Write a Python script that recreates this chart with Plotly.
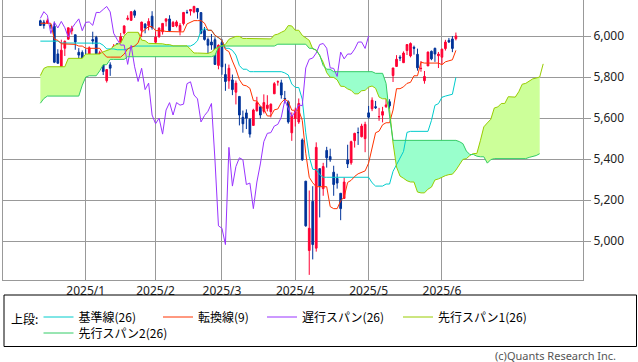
import plotly.graph_objects as go

# ---- trading days (S&P 500 daily, Dec 2024 - Jun 2025) ----
dec_days = [12, 13, 16, 17, 18, 19, 20, 23, 24, 26, 27, 30, 31]
jan_days = [2, 3, 6, 7, 8, 10, 13, 14, 15, 16, 17, 21, 22, 23, 24, 27, 28, 29, 30, 31]
feb_days = [3, 4, 5, 6, 7, 10, 11, 12, 13, 14, 18, 19, 20, 21, 24, 25, 26, 27, 28]
mar_days = [3, 4, 5, 6, 7, 10, 11, 12, 13, 14, 17, 18, 19, 20, 21, 24, 25, 26, 27, 28, 31]
apr_days = [1, 2, 3, 4, 7, 8, 9, 10, 11, 14, 15, 16, 17, 21, 22, 23, 24, 25, 28, 29, 30]
may_days = [1, 2, 5, 6, 7, 8, 9, 12, 13, 14, 15, 16, 19, 20, 21, 22, 23, 27, 28, 29, 30]
jun_days = [2, 3, 4, 5, 6]
months = [(2024, 12, dec_days), (2025, 1, jan_days), (2025, 2, feb_days), (2025, 3, mar_days),
          (2025, 4, apr_days), (2025, 5, may_days), (2025, 6, jun_days)]
dates = [f"{y}/{m}/{d}" for y, m, days in months for d in days]

O = [6074.29,6068.17,6063.79,6052.55,6047.65,5912.71,5842.00,5940.25,5984.63,6024.97,6006.17,5920.67,5919.74,
5903.26,5891.07,5982.81,5993.26,5910.66,5890.66,5782.32,5859.26,5905.21,5961.71,5969.23,6014.12,6081.39,6076.32,6121.43,5969.04,6026.97,6057.70,6050.75,6096.79,
5969.65,5998.14,6020.45,6072.22,6083.13,6046.40,6049.32,6025.08,6060.59,6115.52,6121.60,6117.76,6134.50,6114.10,6026.69,5982.73,5970.87,5981.88,5856.74,
5968.33,5811.98,5781.38,5785.87,5726.01,5705.37,5603.65,5624.84,5594.45,5563.85,5635.60,5654.53,5632.37,5646.92,5630.73,5718.08,5775.94,5771.66,5695.64,5679.40,5527.91,
5597.53,5580.76,5492.74,5292.14,4953.79,5193.57,4965.28,5353.15,5255.56,5441.96,5411.99,5335.75,5305.45,5232.94,5207.67,5395.92,5381.38,5489.73,5529.22,5508.87,5499.44,
5625.14,5645.06,5655.32,5605.88,5614.09,5655.31,5679.39,5807.46,5851.49,5896.68,5869.78,5929.09,5902.88,5944.66,5910.66,5841.26,5781.89,5854.07,5925.54,5939.92,5903.67,
5896.68,5938.56,5978.94,5985.67,5987.06]
H = [6079.68,6078.58,6085.19,6057.68,6070.67,5935.52,5982.06,5978.25,6040.10,6049.75,6006.17,5940.79,5929.74,
5935.09,5949.34,6021.04,6000.68,5927.89,5890.66,5838.80,5871.92,5960.61,5964.69,6014.96,6051.51,6100.81,6118.73,6128.18,6017.17,6069.90,6062.83,6086.64,6120.91,
6022.13,6042.48,6062.86,6084.03,6101.28,6073.38,6076.28,6063.09,6116.91,6127.47,6129.63,6147.43,6134.50,6114.82,6043.65,5992.65,6009.82,5993.69,5959.40,
5986.09,5865.08,5860.59,5812.08,5783.01,5705.37,5636.30,5642.19,5597.78,5645.27,5703.52,5654.53,5715.33,5711.15,5670.84,5775.14,5783.32,5786.95,5732.28,5685.89,5627.56,
5650.57,5695.31,5500.33,5292.14,5246.57,5267.47,5481.34,5353.15,5381.46,5459.46,5450.41,5367.24,5328.31,5232.94,5309.60,5469.69,5489.40,5528.11,5553.66,5571.95,5581.84,
5658.91,5700.70,5683.48,5649.61,5654.39,5720.10,5691.63,5844.19,5906.63,5906.36,5924.80,5958.62,5968.61,5953.06,5938.37,5878.08,5829.51,5924.33,5929.00,5943.13,5922.14,
5937.40,5981.35,5990.48,5999.70,6016.87]
L = [6051.25,6035.77,6059.14,6035.19,5867.79,5866.07,5832.30,5902.57,5981.44,6007.37,5932.95,5869.16,5868.86,
5829.53,5888.66,5960.01,5890.68,5874.78,5809.59,5773.01,5805.62,5905.21,5936.33,5969.23,6006.88,6076.13,6074.67,6088.74,5962.92,5994.33,6012.96,6027.46,6030.93,
5923.93,5990.87,6007.06,6046.83,6019.96,6044.84,6042.34,6003.00,6051.80,6107.62,6099.51,6111.15,6084.59,6008.56,5977.83,5908.49,5932.69,5858.78,5837.66,
5810.91,5732.59,5742.35,5711.64,5666.29,5564.02,5528.41,5546.09,5504.65,5563.85,5631.12,5597.76,5622.20,5632.30,5603.10,5718.08,5757.78,5694.41,5670.94,5572.42,5488.73,
5558.52,5571.48,5390.83,5069.90,4835.04,4910.42,4948.43,5115.27,5220.77,5358.02,5386.44,5220.79,5255.58,5101.63,5207.67,5356.20,5371.96,5455.86,5468.64,5505.70,5433.24,
5597.35,5633.55,5644.14,5586.39,5578.64,5649.41,5644.34,5775.74,5851.49,5877.75,5868.68,5907.36,5895.69,5909.26,5830.91,5825.82,5767.41,5854.07,5881.97,5873.80,5843.66,
5861.43,5929.00,5966.11,5921.20,5978.63]
C = [6051.25,6051.09,6074.08,6050.61,5872.16,5867.08,5930.85,5974.07,6040.04,6037.59,5970.84,5906.94,5881.63,
5868.55,5942.47,5975.38,5909.03,5918.25,5827.04,5836.22,5842.91,5949.91,5937.34,5996.66,6049.24,6086.37,6118.71,6101.24,6012.28,6067.70,6039.31,6071.17,6040.53,
5994.57,6037.88,6061.48,6083.57,6025.99,6066.44,6068.50,6051.97,6115.07,6114.63,6129.58,6144.15,6117.52,6013.13,5983.25,5955.25,5956.06,5861.57,5954.50,
5849.72,5778.15,5842.63,5738.52,5770.20,5614.56,5572.07,5599.30,5521.52,5638.94,5675.12,5614.66,5675.29,5662.89,5667.56,5767.57,5776.65,5712.20,5693.31,5580.94,5611.85,
5633.07,5670.97,5396.52,5074.08,5062.25,4982.77,5456.90,5268.05,5363.36,5405.97,5396.63,5275.70,5282.70,5158.20,5287.76,5375.86,5484.77,5525.21,5528.75,5560.83,5569.06,
5604.14,5686.67,5650.38,5606.91,5631.28,5663.94,5659.91,5844.19,5886.55,5892.58,5916.93,5958.38,5963.60,5940.46,5844.61,5842.01,5802.82,5921.54,5888.55,5912.17,5911.69,
5935.94,5970.37,5970.81,5939.30,6000.36]

# 転換線(9)
tenkan = [6062,6062,6062,6062,5984,5979,5962,5962,
5959,5959,5959,5951,5951,5940,5940,5940,5940,5940,5915,5897,5897,5897,5897,5897,5912,5937,5946,5951,
5967,6017,6032,6046,6046,6026,6026,6026,6022,6022,6022,6022,6022,6020,6059,6066,6075,6075,6075,6063,
6028,6028,6003,5993,5979,5934,5924,5878,5838,5787,5761,5757,5745,5685,5683,5658,5644,5610,5610,5640,
5644,5675,5692,5680,5638,5638,5638,5589,5428,5311,5284,5265,5265,5265,5265,5168,5158,5158,5196,5215,
5286,5296,5315,5328,5337,5342,5380,5454,5528,5536,5567,5577,5577,5639,5743,5743,5752,5769,5774,5806,
5806,5872,5868,5868,5868,5868,5868,5860,5874,5879,5884,5930]
# 基準線(26)
kijun = [5975,5975,5975,5975,5975,5975,5966,5966,5966,5966,5966,5966,5966,5965,5965,5965,5965,5965,5955,
5937,5937,5937,5933,5933,5933,
5937,5946,5951,5951,5951,5951,5951,5951,5951,5951,5951,5951,5951,5951,5951,5951,5951,5951,5951,5960,
5977,6026,6036,6028,6028,6003,5993,5979,5940,5940,5930,5907,5856,5838,5838,5826,5826,5826,5826,5826,
5826,5826,5826,5826,5826,5820,5810,5766,5749,5749,5692,5528,5411,5350,5348,5324,5311,5311,5311,5311,
5311,5311,5311,5311,5311,5311,5311,5311,5311,5311,5284,5268,5268,5268,5278,5278,5340,5371,5409,5437,
5530,5535,5535,5535,5535,5535,5535,5588,5662,5670,5701,5707,5712,5716,5798]
# 先行スパン1(26), 145 slots (26 ahead)
span1 = [5807,5842,5850,5850,5850,5850,5850,5850,5891,5891,5891,5891,5891,5912,5912,5912,5912,5912,
5923,5930,5935,5950,5960,5964,6000,
6018,6018,6018,6018,5980,5977,5964,5964,5962,5962,5962,5958,5958,5952,5952,5952,5952,5952,5935,5917,
5917,5917,5915,5915,5922,
5937,5946,5951,5959,5984,5991,5998,5998,5988,5988,5988,5987,5987,5987,5987,5987,5986,6005,6009,6018,
6026,6051,6049,6028,6028,6003,5993,5979,5937,5932,5904,5872,5821,5799,5798,5786,5755,5754,5742,5735,
5718,5718,5733,5735,5751,5756,5745,5702,5694,5694,5641,5478,5361,5317,5306,5294,5288,5288,5239,5235,
5235,5253,5263,5298,5303,5313,5319,5324,5326,5346,5369,5398,5402,5417,5427,5427,5489,5557,5576,5594,
5649,5654,5671,5671,5704,5702,5702,5728,5765,5769,5781,5791,5795,5800,5864]
# 先行スパン2(26)
span2 = [5672,5695,5707,5707,5707,5707,5707,5707,5707,5707,5707,5707,5760,5800,5806,5806,5806,5830,
5860,5860,5886,5886,5886,5886,5886,
5899,5899,5899,5899,5899,5899,5899,5899,5899,5899,5899,5899,5899,5899,5899,5899,5899,5899,5899,5899,
5899,5899,5899,5899,5899,5905,5946,5951,5951,5951,5951,5951,5951,5951,5951,5951,5951,5951,5951,5951,
5951,5951,5951,5960,5960,5960,5960,5960,5960,5960,
5960,5960,5940,5940,5930,5907,5856,5838,5838,5826,5826,5826,5826,5826,5826,5826,5826,5826,5826,5826,
5826,5818,5818,5818,5769,5609,5491,5491,5491,5491,5491,5491,5491,5491,5491,5491,5491,5491,5491,5491,
5491,5491,5491,5491,5491,5485,5475,5439,5422,5422,5414,5411,5411,5380,5397,5402,5402,5402,5402,5402,
5402,5402,5402,5402,5402,5408,5413,5417,5426]

LAG = 25  # 遅行スパン drawn 26 days back (incl. today)
month_labels = ["2025/1", "2025/2", "2025/3", "2025/4", "2025/5", "2025/6"]
y_ticks = [5000, 5200, 5400, 5600, 5800, 6000]

UP, DN = "#ff0033", "#003399"
C_KIJUN, C_TENKAN, C_CHIKOU = "#00cccc", "#ff3300", "#9933ff"
C_S1, C_S2 = "#99cc00", "#33cc66"
F_POS, F_NEG = "#ccff99", "#99ffcc"

n = len(C)
xi = list(range(n))
xs = list(range(len(span1)))
xl = list(range(n - LAG))
hi_cloud = [max(a, b) for a, b in zip(span1, span2)]
lo_cloud = [min(a, b) for a, b in zip(span1, span2)]

# month tick positions = first trading day of each month
tick_pos = []
for lab in month_labels:
    y_, m_ = lab.split("/")
    for i, d in enumerate(dates):
        if d.startswith(f"{y_}/{m_}/"):
            tick_pos.append(i)
            break

fig = go.Figure()
# cloud fills
fig.add_trace(go.Scatter(x=xs, y=span2, mode="lines", line=dict(width=0), showlegend=False, hoverinfo="skip"))
fig.add_trace(go.Scatter(x=xs, y=hi_cloud, mode="lines", line=dict(width=0), fill="tonexty",
                         fillcolor=F_POS, showlegend=False, hoverinfo="skip"))
fig.add_trace(go.Scatter(x=xs, y=span2, mode="lines", line=dict(width=0), showlegend=False, hoverinfo="skip"))
fig.add_trace(go.Scatter(x=xs, y=lo_cloud, mode="lines", line=dict(width=0), fill="tonexty",
                         fillcolor=F_NEG, showlegend=False, hoverinfo="skip"))

fnt = dict(family="Noto Sans CJK JP", size=12, color="#000000")
fig.add_trace(go.Scatter(x=xi, y=kijun, mode="lines", name="基準線(26)", line=dict(color=C_KIJUN, width=1),
                         legend="legend"))
fig.add_trace(go.Scatter(x=xi, y=tenkan, mode="lines", name="転換線(9)", line=dict(color=C_TENKAN, width=1),
                         legend="legend2"))
fig.add_trace(go.Scatter(x=xl, y=C[LAG:], mode="lines", name="遅行スパン(26)", line=dict(color=C_CHIKOU, width=1),
                         legend="legend3"))
fig.add_trace(go.Scatter(x=xs, y=span1, mode="lines", name="先行スパン1(26)", line=dict(color=C_S1, width=1),
                         legend="legend4"))
fig.add_trace(go.Scatter(x=xs, y=span2, mode="lines", name="先行スパン2(26)", line=dict(color=C_S2, width=1),
                         legend="legend5"))

fig.add_trace(go.Candlestick(x=xi, open=O, high=H, low=L, close=C, showlegend=False, whiskerwidth=0,
                             increasing=dict(line=dict(color=UP, width=1), fillcolor=UP),
                             decreasing=dict(line=dict(color=DN, width=1), fillcolor=DN)))

W, Hh = 638, 362
ml, mr, mt, mb = 3, 55, 0, 82
pw, ph = W - ml - mr, Hh - mt - mb
def px(x): return (x - ml) / pw
def py(y): return (Hh - mb - y) / ph

legs = {}
for key, lx, ly in [("legend", 38.5, 317), ("legend2", 158, 317), ("legend3", 262, 317),
                    ("legend4", 398, 317), ("legend5", 38.5, 333)]:
    legs[key] = dict(x=px(lx), y=py(ly), xanchor="left", yanchor="middle", bgcolor="rgba(0,0,0,0)",
                     borderwidth=0, font=fnt, orientation="h", itemclick=False, tracegroupgap=0)

fig.update_layout(
    width=W, height=Hh, margin=dict(l=ml, r=mr, t=mt, b=mb, autoexpand=False),
    paper_bgcolor="white", plot_bgcolor="white",
    showlegend=True,
    xaxis=dict(range=[-10.7, 155.4], tickvals=tick_pos, ticktext=month_labels, showgrid=True,
               gridcolor="#999999", gridwidth=1, zeroline=False, showline=True, mirror=True,
               linecolor="#999999", linewidth=1, ticks="", rangeslider=dict(visible=False),
               automargin=False,
               tickfont=dict(family="Noto Sans", size=12, color="#222222")),
    yaxis=dict(range=[4810, 6175.6], side="right", tickvals=y_ticks, tickformat=",d", showgrid=True,
               gridcolor="#999999", gridwidth=1, zeroline=False, showline=True, mirror=True,
               linecolor="#999999", linewidth=1, ticks="outside", ticklen=7, tickcolor="#999999",
               automargin=False,
               tickfont=dict(family="Noto Sans", size=12, color="#222222")),
    **legs,
)

fig.add_shape(type="rect", xref="paper", yref="paper", x0=px(4), x1=px(636.5), y0=py(346.5), y1=py(295),
              line=dict(color="#000000", width=1), fillcolor="rgba(0,0,0,0)", layer="above")
fig.add_annotation(text="上段:", xref="paper", yref="paper", x=px(9), y=py(318), xanchor="left",
                   yanchor="middle", showarrow=False, font=fnt)
fig.add_annotation(text="(c)Quants Research Inc.", xref="paper", yref="paper", x=px(618), y=py(355.5),
                   xanchor="right", yanchor="middle", showarrow=False,
                   font=dict(family="Noto Sans", size=11, color="#555555"))

fig.write_html("out.html", config={"displayModeBar": False},
               post_script="document.body.style.margin='0';document.body.style.overflow='hidden';")
